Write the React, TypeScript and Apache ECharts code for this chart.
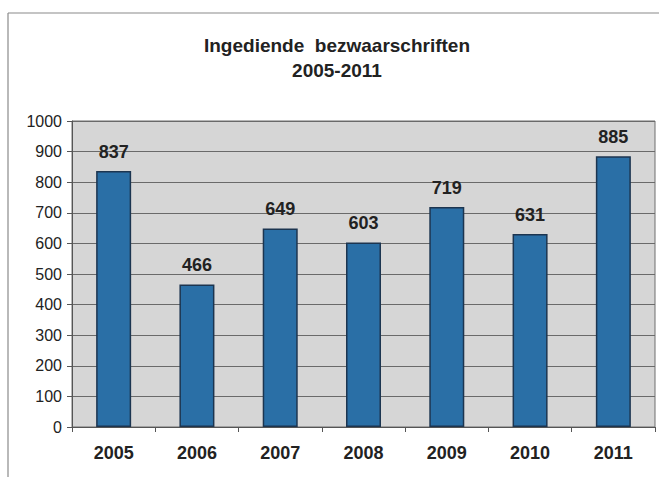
import React, { useEffect, useRef } from "react";
import * as echarts from "echarts";

const categories = ["2005", "2006", "2007", "2008", "2009", "2010", "2011"];
const values = [837, 466, 649, 603, 719, 631, 885];
const titleLines = ["Ingediende  bezwaarschriften", "2005-2011"];

export default function App() {
  const ref = useRef<HTMLDivElement>(null);
  useEffect(() => {
    if (!ref.current) return;
    const chart = echarts.init(ref.current, null, { renderer: "svg" });
    const font = "Arial, 'Liberation Sans', sans-serif";
    chart.setOption({
      animation: false,
      backgroundColor: "#ffffff",
      title: {
        text: titleLines.join("\n"),
        left: 332,
        textAlign: "center",
        top: 28,
        textStyle: {
          fontFamily: font,
          fontWeight: "bold",
          fontSize: 19,
          lineHeight: 25,
          color: "#222222",
        },
      },
      graphic: [
        { type: "line", shape: { x1: 8, y1: 13, x2: 8, y2: 477 }, style: { stroke: "#8a8a8a", lineWidth: 1.2 } },
        { type: "line", shape: { x1: 8, y1: 13, x2: 659, y2: 13 }, style: { stroke: "#8a8a8a", lineWidth: 1.2 } },
      ],
      grid: {
        left: 72,
        right: 4,
        top: 121,
        bottom: 50,
        show: true,
        backgroundColor: "#d6d6d6",
        borderColor: "#6e6e6e",
        borderWidth: 1,
      },
      xAxis: {
        type: "category",
        data: categories,
        axisLine: { lineStyle: { color: "#555555", width: 1 } },
        axisTick: { show: true, length: 5, lineStyle: { color: "#555555" } },
        axisLabel: {
          fontFamily: font,
          fontWeight: "bold",
          fontSize: 18,
          color: "#222222",
          margin: 17,
        },
      },
      yAxis: {
        type: "value",
        min: 0,
        max: 1000,
        interval: 100,
        axisLine: { show: true, lineStyle: { color: "#555555" } },
        axisTick: { show: true, length: 5, lineStyle: { color: "#555555" } },
        axisLabel: {
          fontFamily: font,
          fontSize: 16,
          color: "#222222",
          margin: 10,
          formatter: (v: number) => String(v),
        },
        splitLine: { lineStyle: { color: "#6a6a6a", width: 1 } },
      },
      series: [
        {
          type: "bar",
          data: values,
          barWidth: 35,
          itemStyle: {
            color: "#2a6fa6",
            borderColor: "#1c3550",
            borderWidth: 1.5,
          },
          label: {
            show: true,
            position: "top",
            distance: 10,
            fontFamily: font,
            fontWeight: "bold",
            fontSize: 18,
            color: "#222222",
          },
        },
      ],
    });
    return () => chart.dispose();
  }, []);
  return <div ref={ref} style={{ width: 659, height: 477, position: "absolute", left: 0, top: 0 }} />;
}
